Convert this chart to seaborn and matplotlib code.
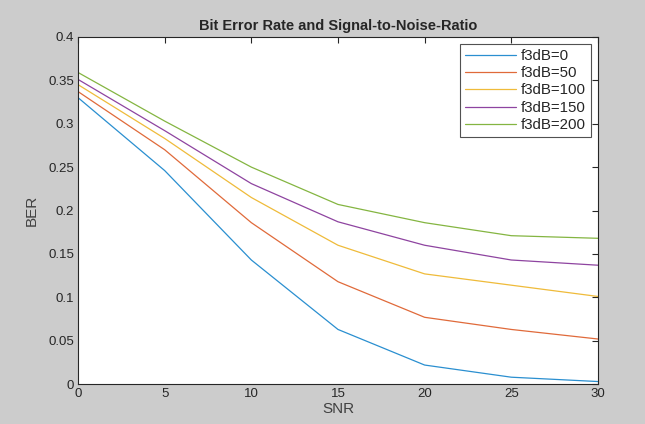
import numpy as np
import pandas as pd
import matplotlib
matplotlib.use("Agg")
import matplotlib.pyplot as plt
import seaborn as sns
from matplotlib.ticker import FormatStrFormatter

snr = [0, 5, 10, 15, 20, 25, 30]
labels = ["f3dB=0", "f3dB=50", "f3dB=100", "f3dB=150", "f3dB=200"]
ber_0 = [0.330, 0.246, 0.143, 0.063, 0.022, 0.008, 0.003]
ber_50 = [0.337, 0.270, 0.186, 0.118, 0.077, 0.063, 0.052]
ber_100 = [0.345, 0.283, 0.215, 0.160, 0.127, 0.114, 0.101]
ber_150 = [0.351, 0.292, 0.231, 0.187, 0.160, 0.143, 0.137]
ber_200 = [0.359, 0.303, 0.250, 0.207, 0.186, 0.171, 0.168]

colors = ["#2a8fd0", "#e06a3a", "#efbb3a", "#8e44a0", "#84b541"]

rows = []
for lab, vals in zip(labels, [ber_0, ber_50, ber_100, ber_150, ber_200]):
    for x, y in zip(snr, vals):
        rows.append({"SNR": x, "BER": y, "series": lab})
df = pd.DataFrame(rows)

sns.set_style("white")
plt.rcParams['font.family'] = ['Liberation Sans', 'DejaVu Sans']

fig = plt.figure(figsize=(6.45, 4.24), dpi=100, facecolor="#cccccc")
ax = fig.add_axes([0.121, 0.094, 0.806, 0.819])
sns.lineplot(data=df, x="SNR", y="BER", hue="series", palette=colors,
             linewidth=0.9, ax=ax)

ax.set_xlim(0, 30)
ax.set_ylim(0, 0.4)
ax.set_xticks(snr)
ax.set_yticks(np.arange(0, 0.401, 0.05))
ax.yaxis.set_major_formatter(FormatStrFormatter('%g'))
for s in ax.spines.values():
    s.set_color("#262626")
    s.set_linewidth(0.8)
ax.tick_params(direction="in", top=True, right=True, length=4, width=0.8,
               colors="#262626", labelsize=9.5, pad=3)
ax.set_xlabel("SNR", fontsize=11, color="#404040", labelpad=1)
ax.set_ylabel("BER", fontsize=11, color="#404040", labelpad=7)
ax.set_title("Bit Error Rate and Signal-to-Noise-Ratio", fontsize=10.5,
             fontweight="bold", pad=5)

leg = ax.legend(loc="upper right", frameon=True, fancybox=False,
                edgecolor="#262626", fontsize=10.8, handlelength=3.4,
                handletextpad=0.3, borderpad=0.35, labelspacing=0.22,
                borderaxespad=0.45)
leg.get_frame().set_linewidth(0.8)

fig.savefig("out.png", dpi=100, facecolor=fig.get_facecolor())
